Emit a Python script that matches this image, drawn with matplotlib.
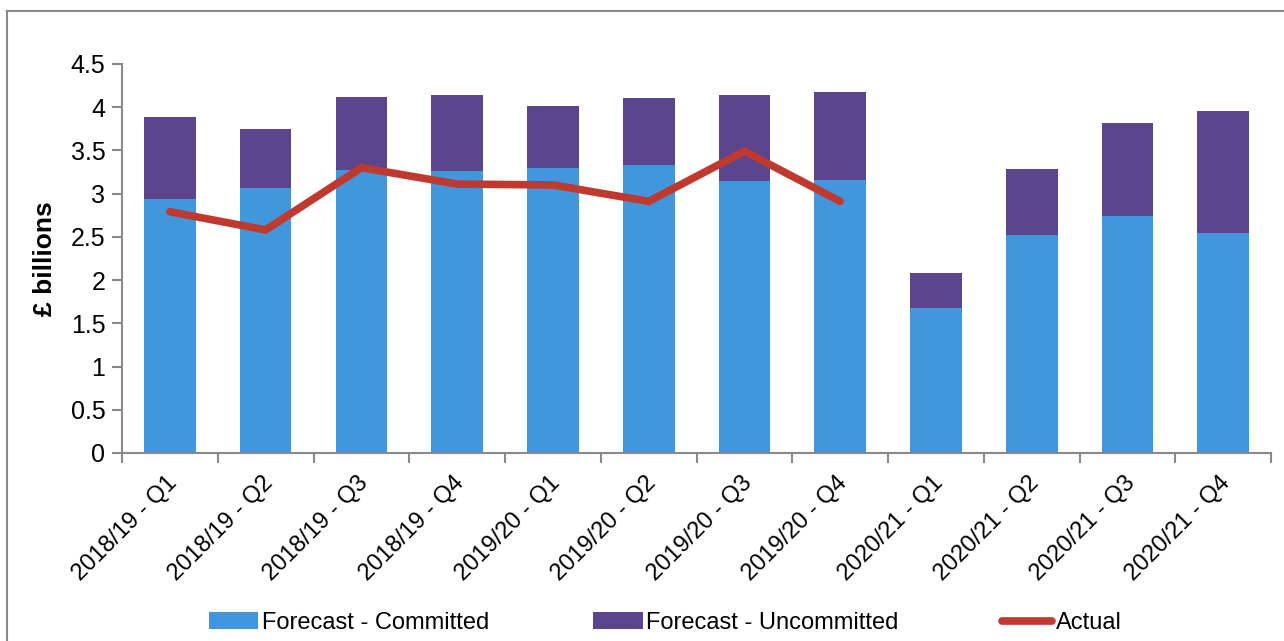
import numpy as np
import matplotlib.pyplot as plt
import matplotlib.transforms as mtransforms
from matplotlib.lines import Line2D

quarters = ['2018/19 - Q1', '2018/19 - Q2', '2018/19 - Q3', '2018/19 - Q4',
            '2019/20 - Q1', '2019/20 - Q2', '2019/20 - Q3', '2019/20 - Q4',
            '2020/21 - Q1', '2020/21 - Q2', '2020/21 - Q3', '2020/21 - Q4']
committed = [2.94, 3.07, 3.27, 3.26, 3.30, 3.33, 3.14, 3.16, 1.68, 2.52, 2.74, 2.55]
total = [3.89, 3.75, 4.12, 4.14, 4.01, 4.10, 4.14, 4.17, 2.08, 3.28, 3.82, 3.95]
actual = [2.79, 2.58, 3.30, 3.11, 3.10, 2.91, 3.49, 2.91]

uncommitted = [t - c for t, c in zip(total, committed)]

plt.rcParams['font.family'] = ['Liberation Sans', 'DejaVu Sans']

fig = plt.figure(figsize=(12.84, 6.41), dpi=100)
ax = fig.add_axes([0.095, 0.2933, 0.895, 0.607])

x = np.arange(len(quarters))
b1 = ax.bar(x, committed, width=0.54, color='#4196DC', label='Forecast - Committed')
b2 = ax.bar(x, uncommitted, width=0.54, bottom=committed, color='#5B458C', label='Forecast - Uncommitted')
l1, = ax.plot(x[:len(actual)], actual, color='#C0392F', linewidth=5.5, solid_capstyle='round',
              solid_joinstyle='miter', label='Actual')

ax.set_xlim(-0.5, len(quarters) - 0.5)
ax.set_ylim(0, 4.5)
ax.set_yticks(np.arange(0, 4.51, 0.5))
ax.set_yticklabels(['0', '0.5', '1', '1.5', '2', '2.5', '3', '3.5', '4', '4.5'])
ax.set_xticks(x)
ax.set_xticklabels(quarters, rotation=45, ha='right', rotation_mode='anchor')
ax.set_xticks(np.arange(-0.5, len(quarters)), minor=True)
ax.tick_params(axis='x', which='major', length=0, labelsize=17, pad=14)
ax.tick_params(axis='x', which='minor', length=7, color='#898989', direction='out', width=1.5)
ax.tick_params(axis='y', labelsize=18, length=7, color='#898989', direction='out', width=1.5, pad=5)
ax.set_ylabel('£ billions', fontsize=19, fontweight='bold', labelpad=10)

shift = mtransforms.ScaledTranslation(-4 / 100, 0, fig.dpi_scale_trans)
for lab in ax.get_xticklabels():
    lab.set_transform(lab.get_transform() + shift)

for s in ['top', 'right']:
    ax.spines[s].set_visible(False)
for s in ['left', 'bottom']:
    ax.spines[s].set_color('#898989')
    ax.spines[s].set_linewidth(1.5)

fig.legend([b1, b2, l1], ['Forecast - Committed', 'Forecast - Uncommitted', 'Actual'],
           loc='lower center', bbox_to_anchor=(0.518, -0.022), ncol=3, frameon=False,
           fontsize=17, columnspacing=4.4, handlelength=2.1, handletextpad=0.15)

# chart frame (top and left edges only visible)
fig.add_artist(Line2D([0.0055, 1.0], [0.983, 0.983], transform=fig.transFigure,
                      color='#898989', linewidth=1.5))
fig.add_artist(Line2D([0.0055, 0.0055], [0.0, 0.983], transform=fig.transFigure,
                      color='#898989', linewidth=1.5))

fig.savefig('out.png', dpi=100)
